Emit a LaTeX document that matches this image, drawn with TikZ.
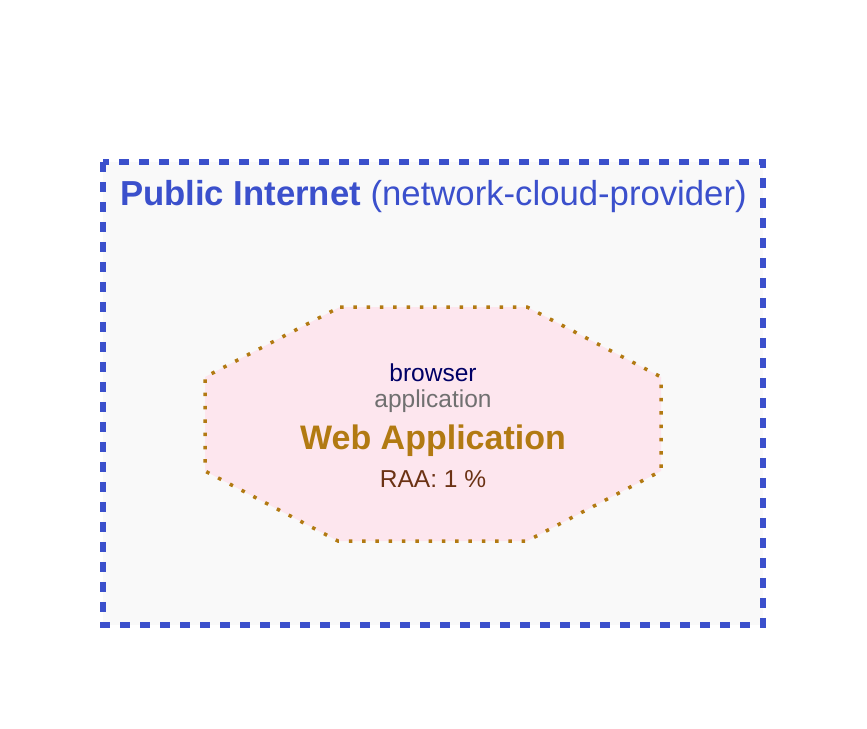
\documentclass[tikz,border=0pt]{standalone}
\usepackage{fontspec}
\setmainfont{Liberation Sans}
\definecolor{zoneblue}{HTML}{3B50CC}
\definecolor{zonefill}{HTML}{F9F9F9}
\definecolor{appgold}{HTML}{B27A12}
\definecolor{appfill}{HTML}{FDE6EE}
\definecolor{navytxt}{HTML}{000066}
\definecolor{graytxt}{HTML}{707070}
\definecolor{browntxt}{HTML}{6B3214}
\tikzset{
  zonebox/.style={draw=zoneblue, fill=zonefill, line width=6.5pt, dash pattern=on 10pt off 10pt},
  appbox/.style={draw=appgold, fill=appfill, line width=3.5pt, dash pattern=on 3.5pt off 9.8pt},
  txt/.style={anchor=base, inner sep=0pt, outer sep=0pt},
}
\begin{document}
\begin{tikzpicture}[x=1pt,y=-1pt]
\useasboundingbox (0,0) rectangle (867,728);
\fill[white] (0,0) rectangle (867,728);
\draw[zonebox] (103,162) rectangle (763,625);
\node[txt, anchor=base west, text=zoneblue] (title) at (120,205)
  {\fontsize{34.7}{40}\selectfont\textbf{Public Internet} (network-cloud-provider)};
\draw[appbox] (340,307) -- (527,307) -- (661,377) -- (661,471) -- (527,541)
  -- (338,541) -- (205,471) -- (205,377) -- cycle;
\coordinate (app) at (433,424);
\node[txt, text=navytxt] (stereo) at (433,381) {\fontsize{24.5}{28}\selectfont browser};
\node[txt, text=graytxt] (kind) at (433,407) {\fontsize{24.5}{28}\selectfont application};
\node[txt, text=appgold] (name) at (433,449) {\fontsize{34}{40}\selectfont\textbf{Web Application}};
\node[txt, text=browntxt] (raa) at (433,487) {\fontsize{24.5}{28}\selectfont RAA: 1 \%};
\end{tikzpicture}
\end{document}
